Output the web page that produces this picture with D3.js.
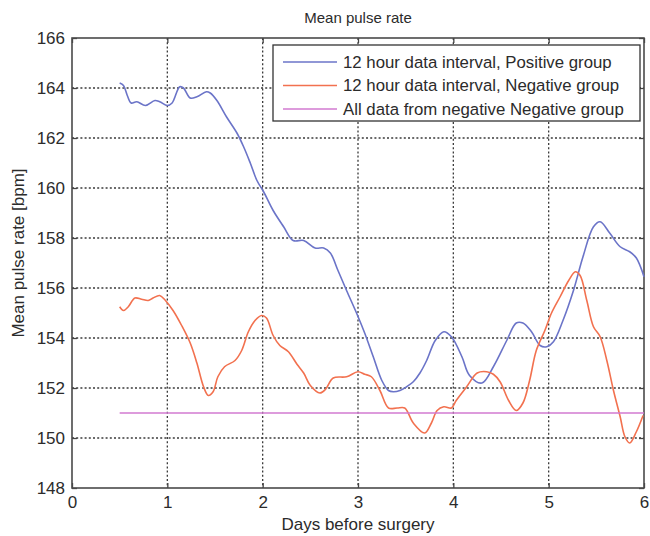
<!DOCTYPE html>
<html>
<head>
<meta charset="utf-8">
<script src="https://cdn.jsdelivr.net/npm/d3@7/dist/d3.min.js"></script>
<style>
  html, body { margin: 0; padding: 0; background: #fff; }
  svg { display: block; font-family: "Liberation Sans", Arial, sans-serif; }
</style>
</head>
<body>
<svg id="chart" width="650" height="536"></svg>
<script>
// Days before surgery vs. mean pulse rate (bpm)
const posDays = [0.50,0.54,0.58,0.62,0.68,0.77,0.87,0.92,1.00,1.05,1.13,1.17,1.24,1.31,1.41,1.45,1.52,1.62,1.73,1.80,1.87,1.94,2.01,2.11,2.22,2.32,2.43,2.55,2.64,2.71,2.79,2.88,2.99,3.07,3.16,3.25,3.32,3.37,3.44,3.51,3.58,3.65,3.72,3.81,3.90,3.98,4.09,4.17,4.30,4.42,4.56,4.66,4.73,4.82,4.91,4.98,5.05,5.15,5.26,5.36,5.47,5.54,5.64,5.75,5.85,5.92,6.00];
const posRate = [164.2,164.1,163.7,163.4,163.45,163.3,163.5,163.45,163.3,163.4,164.05,164.0,163.6,163.65,163.85,163.8,163.5,162.85,162.2,161.65,161.0,160.3,159.85,159.1,158.45,157.9,157.9,157.6,157.6,157.4,156.7,155.9,154.95,154.2,153.25,152.3,151.9,151.85,151.9,152.05,152.25,152.6,153.1,153.9,154.25,154.05,153.25,152.5,152.2,152.85,153.9,154.6,154.6,154.25,153.7,153.65,153.85,154.7,155.9,157.25,158.45,158.65,158.2,157.65,157.45,157.2,156.45];

const negDays = [0.50,0.54,0.59,0.66,0.73,0.80,0.85,0.92,0.98,1.06,1.15,1.24,1.31,1.38,1.43,1.48,1.53,1.60,1.71,1.78,1.85,1.92,1.99,2.04,2.11,2.18,2.27,2.36,2.43,2.50,2.60,2.66,2.74,2.88,3.00,3.07,3.14,3.23,3.32,3.41,3.49,3.58,3.70,3.77,3.83,3.90,3.98,4.03,4.14,4.25,4.35,4.42,4.49,4.58,4.66,4.73,4.80,4.87,4.96,5.03,5.12,5.21,5.28,5.33,5.40,5.47,5.54,5.61,5.68,5.75,5.80,5.85,5.92,5.99];
const negRate = [155.25,155.1,155.25,155.6,155.55,155.5,155.6,155.7,155.5,155.1,154.5,153.8,153.0,152.05,151.7,151.85,152.45,152.85,153.1,153.5,154.25,154.7,154.9,154.8,154.1,153.7,153.45,152.95,152.6,152.1,151.8,151.95,152.4,152.45,152.65,152.55,152.45,151.9,151.2,151.2,151.2,150.6,150.2,150.6,151.1,151.25,151.2,151.5,152.05,152.6,152.65,152.55,152.25,151.5,151.1,151.4,152.3,153.5,154.3,155.0,155.65,156.3,156.65,156.5,155.5,154.45,154.05,153.1,151.9,150.85,150.05,149.8,150.25,150.9];

const allDays = [0.5, 6.0];
const allRate = [151.0, 151.0];

const xTicks = [0, 1, 2, 3, 4, 5, 6];
const yTicks = [148, 150, 152, 154, 156, 158, 160, 162, 164, 166];

const seriesNames = [
  "12 hour data interval, Positive group",
  "12 hour data interval, Negative group",
  "All data from negative Negative group"
];
const seriesColors = ["#6b74c8", "#f2714f", "#d27ad0"];

const svg = d3.select("#chart");
const L = 72, R = 644, T = 38, B = 488;
const ink = "#2b2b2b";

const x = d3.scaleLinear().domain([0, 6]).range([L, R]);
const y = d3.scaleLinear().domain([148, 166]).range([B, T]);

// dotted grid
const grid = svg.append("g").attr("stroke", "#3a3a3a").attr("stroke-width", 1.3)
  .attr("stroke-dasharray", "2,2.2");
grid.selectAll(".gx").data(xTicks.slice(1, -1)).join("line")
  .attr("x1", d => x(d)).attr("x2", d => x(d)).attr("y1", T).attr("y2", B);
grid.selectAll(".gy").data(yTicks.slice(1, -1)).join("line")
  .attr("x1", L).attr("x2", R).attr("y1", d => y(d)).attr("y2", d => y(d));

// axes (ticks pointing inward, on all four sides)
const tickLen = 5;
const axStyle = g => {
  g.select(".domain").remove();
  g.selectAll(".tick line").attr("stroke", "#444").attr("stroke-width", 1.3);
  g.selectAll(".tick text").attr("fill", ink).attr("font-size", 17)
    .attr("font-family", "Liberation Sans, Arial, sans-serif");
};
svg.append("g").attr("transform", `translate(0,${B})`)
  .call(d3.axisBottom(x).tickValues(xTicks).tickFormat(d3.format("d")).tickSize(-tickLen).tickPadding(8))
  .call(axStyle);
svg.append("g").attr("transform", `translate(0,${T})`)
  .call(d3.axisTop(x).tickValues(xTicks).tickFormat("").tickSize(-tickLen))
  .call(axStyle);
svg.append("g").attr("transform", `translate(${L},0)`)
  .call(d3.axisLeft(y).tickValues(yTicks).tickFormat(d3.format("d")).tickSize(-tickLen).tickPadding(7))
  .call(axStyle);
svg.append("g").attr("transform", `translate(${R},0)`)
  .call(d3.axisRight(y).tickValues(yTicks).tickFormat("").tickSize(-tickLen))
  .call(axStyle);

// plot box
svg.append("rect").attr("x", L).attr("y", T).attr("width", R - L).attr("height", B - T)
  .attr("fill", "none").attr("stroke", "#4a4a4a").attr("stroke-width", 1.6);

// series
const line = d3.line().x(d => x(d[0])).y(d => y(d[1])).curve(d3.curveCatmullRom.alpha(0.5));
const series = [
  d3.zip(posDays, posRate),
  d3.zip(negDays, negRate),
  d3.zip(allDays, allRate)
];
svg.append("g").selectAll("path").data(series).join("path")
  .attr("d", line).attr("fill", "none")
  .attr("stroke", (d, i) => seriesColors[i]).attr("stroke-width", 1.6);

// legend
const lg = svg.append("g");
lg.append("rect").attr("x", 273).attr("y", 45).attr("width", 367).attr("height", 76)
  .attr("fill", "#fff").attr("stroke", "#333").attr("stroke-width", 1.3);
seriesNames.forEach((name, i) => {
  const yy = 62 + i * 23.5;
  lg.append("line").attr("x1", 283).attr("x2", 337).attr("y1", yy).attr("y2", yy)
    .attr("stroke", seriesColors[i]).attr("stroke-width", 1.6);
  lg.append("text").attr("x", 343).attr("y", yy).attr("dy", "0.35em")
    .attr("font-size", 16.8).attr("fill", ink).text(name);
});

// titles
svg.append("text").attr("x", 358).attr("y", 23).attr("text-anchor", "middle")
  .attr("font-size", 15).attr("fill", ink).text("Mean pulse rate");
svg.append("text").attr("x", 358).attr("y", 530).attr("text-anchor", "middle")
  .attr("font-size", 17).attr("fill", ink).text("Days before surgery");
svg.append("text").attr("transform", `translate(24,${(T + B) / 2 - 10}) rotate(-90)`)
  .attr("text-anchor", "middle").attr("font-size", 17).attr("fill", ink)
  .text("Mean pulse rate [bpm]");
</script>
</body>
</html>
